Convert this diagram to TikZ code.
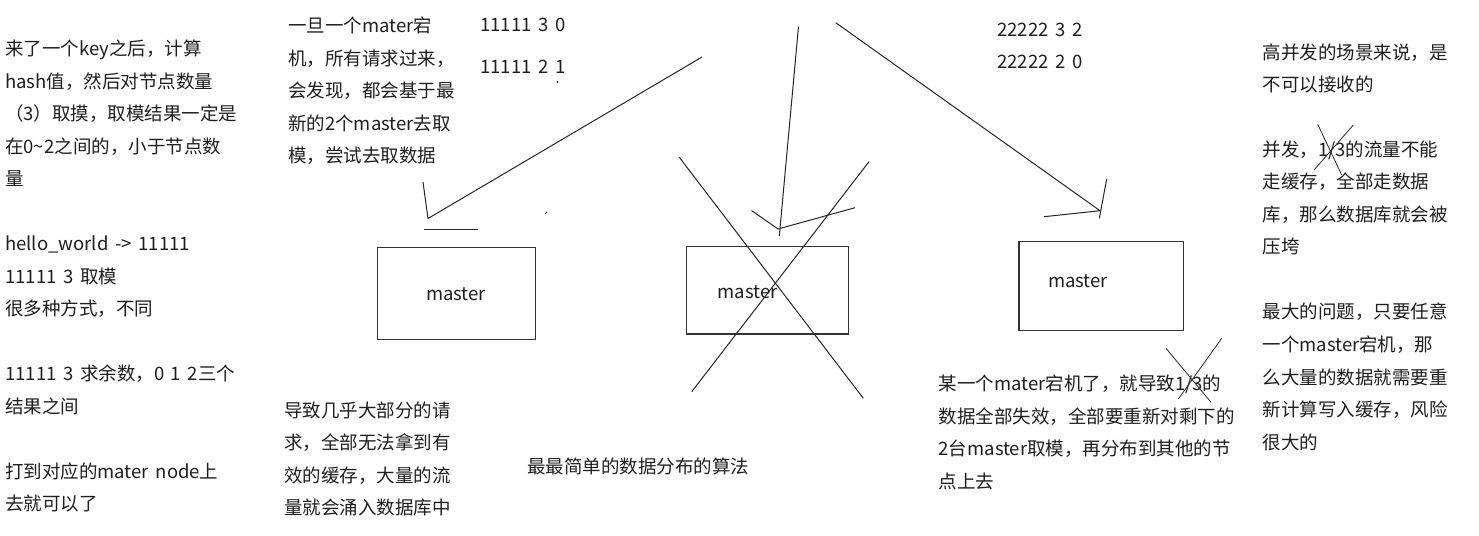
\documentclass[tikz,border=0pt]{standalone}
\usepackage{fontspec}
\setmainfont[WordSpace=1.6]{Noto Sans CJK SC}
\begin{document}
\begin{tikzpicture}[x=1pt,y=-1pt,
  txt/.style={anchor=base west,inner sep=0pt,font=\fontsize{18.5}{22}\selectfont,text=black!88},
  box/.style={draw=black!80,line width=1.3pt,inner sep=0pt},
  pen/.style={draw=black!85,line width=1pt}]
\useasboundingbox[fill=white] (0,0) rectangle (1479,535);
% ---------- left column ----------
\node[txt] (l1) at (5,55.5) {来了一个key之后，计算};
\node[txt] (l2) at (5,88) {hash值，然后对节点数量};
\node[txt] (l3) at (5,120.5) {（3）取摸，取模结果一定是};
\node[txt] (l4) at (5,153) {在0\textasciitilde2之间的，小于节点数};
\node[txt] (l5) at (5,185.5) {量};
\node[txt] (l6) at (5,250.5) {hello\_world -> 11111};
\node[txt] (l7) at (5,283) {11111 3 取模};
\node[txt] (l8) at (5,315.5) {很多种方式，不同};
\node[txt] (l9) at (5,380.5) {11111 3 求余数，0 1 2三个};
\node[txt] (l10) at (5,413) {结果之间};
\node[txt] (l11) at (5,478) {打到对应的mater node上};
\node[txt] (l12) at (5,510.5) {去就可以了};
% ---------- middle top column ----------
\node[txt] (m1) at (288,32.5) {一旦一个mater宕};
\node[txt] (m2) at (288,65) {机，所有请求过来，};
\node[txt] (m3) at (288,97.5) {会发现，都会基于最};
\node[txt] (m4) at (288,130) {新的2个master去取};
\node[txt] (m5) at (288,162.5) {模，尝试去取数据};
\node[txt] (n1) at (480,32) {11111 3 0};
\node[txt] (n2) at (480,73.7) {11111 2 1};
\fill[black!85] (557.5,82) circle (1.1);
% ---------- middle bottom ----------
\node[txt] (b1) at (284,417) {导致几乎大部分的请};
\node[txt] (b2) at (284,449.5) {求，全部无法拿到有};
\node[txt] (b3) at (284,482) {效的缓存，大量的流};
\node[txt] (b4) at (284,514.5) {量就会涌入数据库中};
\node[txt] (title) at (527,473) {最最简单的数据分布的算法};
% ---------- right numbers ----------
\node[txt] (q1) at (997,36.3) {22222 3 2};
\node[txt] (q2) at (997,68.7) {22222 2 0};
% ---------- bottom right ----------
\node[txt] (r1) at (938.5,390.3) {某一个mater宕机了，就导致1/3的};
\node[txt] (r2) at (938.5,423) {数据全部失效，全部要重新对剩下的};
\node[txt] (r3) at (938.5,455.5) {2台master取模，再分布到其他的节};
\node[txt] (r4) at (938.5,488) {点上去};
% ---------- far right ----------
\node[txt] (s1) at (1262.3,59.3) {高并发的场景来说，是};
\node[txt] (s2) at (1262.3,91) {不可以接收的};
\node[txt] (s3) at (1262.3,156) {并发，1/3的流量不能};
\node[txt] (s4) at (1262.3,188.5) {走缓存，全部走数据};
\node[txt] (s5) at (1262.3,221) {库，那么数据库就会被};
\node[txt] (s6) at (1262.3,253.5) {压垮};
\node[txt] (s7) at (1262.3,318.7) {最大的问题，只要任意};
\node[txt] (s8) at (1262.3,351.5) {一个master宕机，那};
\node[txt] (s9) at (1262.3,384) {么大量的数据就需要重};
\node[txt] (s10) at (1262.3,416.5) {新计算写入缓存，风险};
\node[txt] (s11) at (1262.3,449) {很大的};
% ---------- boxes ----------
\node[box,minimum width=158.4pt,minimum height=91.6pt] (box1) at (456.5,293.5) {};
\node[box,minimum width=161.6pt,minimum height=87.3pt] (box2) at (767.5,290.3) {};
\node[box,minimum width=164.3pt,minimum height=89pt] (box3) at (1101.2,286.2) {};
\node[txt,anchor=center] (t1) at (456,294) {master};
\node[txt,anchor=center] (t2) at (747.7,291.7) {master};
\node[txt,anchor=center] (t3) at (1078,281) {master};
% ---------- arrow 1 ----------
\coordinate (a1s) at (702,57);
\coordinate (a1v) at (428,218.5);
\coordinate (a1b) at (423,182);
\draw[pen] (a1s) -- (a1v) -- (a1b);
\coordinate (h1a) at (424,229);
\coordinate (h1b) at (477.5,229);
\draw[pen] (h1a) -- (h1b);
\coordinate (d1a) at (545,214);
\coordinate (d1b) at (547,212);
\draw[pen] (d1a) -- (d1b);
% ---------- arrow 2 ----------
\coordinate (a2s) at (798.5,26.5);
\coordinate (a2e) at (779.3,236);
\coordinate (a2v) at (778,229);
\coordinate (a2l) at (751.5,210.5);
\coordinate (a2r) at (855,207.7);
\draw[pen] (a2s) -- (a2e);
\draw[pen] (a2l) -- (a2v) -- (a2r);
% ---------- big cross over box 2 ----------
\coordinate (x1a) at (679.3,157.3);
\coordinate (x1b) at (863.3,398.3);
\coordinate (x2a) at (869,161.7);
\coordinate (x2b) at (691.7,391.7);
\draw[pen] (x1a) -- (x1b);
\draw[pen] (x2a) -- (x2b);
% ---------- arrow 3 ----------
\coordinate (a3s) at (835.7,22.7);
\coordinate (a3v) at (1100,210.7);
\coordinate (a3l) at (1044,216.7);
\coordinate (a3t) at (1106.7,179);
\coordinate (a3u) at (1099.3,218.3);
\draw[pen] (a3s) -- (a3v) -- (a3l);
\draw[pen] (a3t) -- (a3u);
% ---------- small crosses ----------
\coordinate (c1a) at (1166,348.3);
\coordinate (c1b) at (1211,402.3);
\coordinate (c1c) at (1221.7,338.3);
\coordinate (c1d) at (1178.3,399);
\draw[pen,line width=0.8pt] (c1a) -- (c1b);
\draw[pen,line width=0.8pt] (c1c) -- (c1d);
\coordinate (c2a) at (1317.7,124.3);
\coordinate (c2b) at (1341.7,175);
\coordinate (c2c) at (1353.3,125);
\coordinate (c2d) at (1314,170);
\draw[pen,line width=0.8pt] (c2a) -- (c2b);
\draw[pen,line width=0.8pt] (c2c) -- (c2d);
\end{tikzpicture}
\end{document}
